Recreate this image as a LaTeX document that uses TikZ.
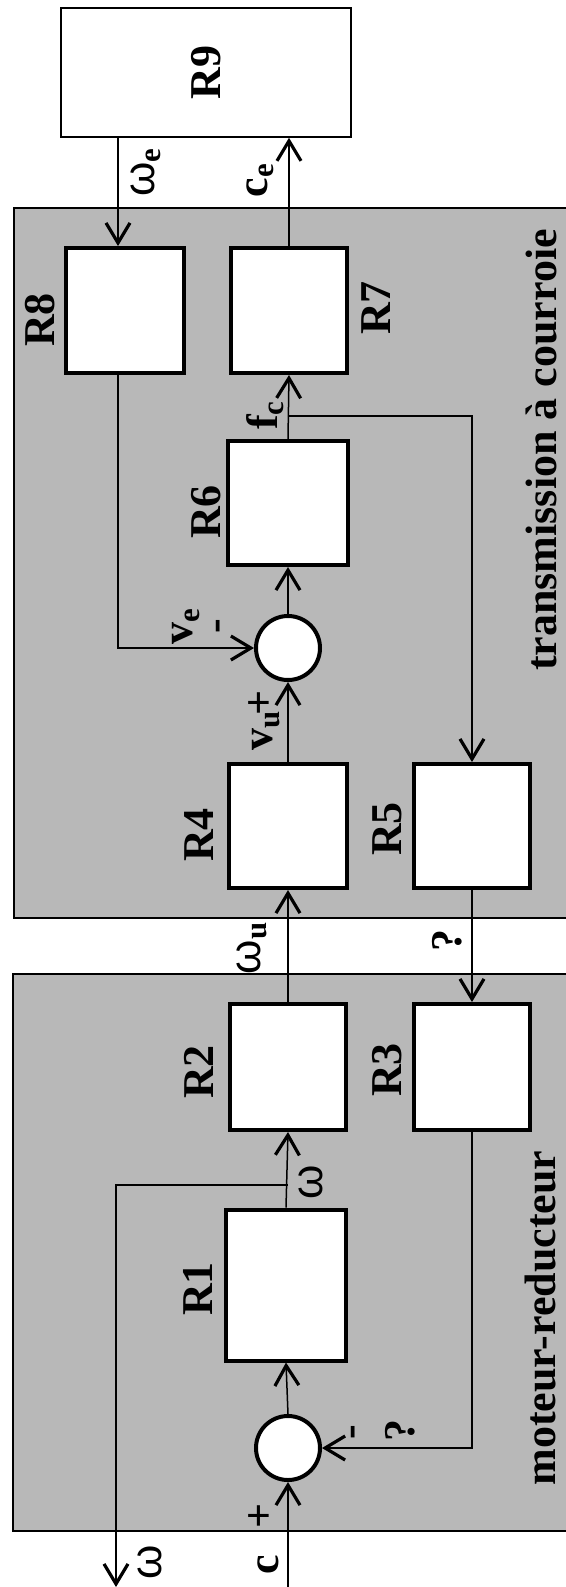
\documentclass[tikz,border=0pt]{standalone}
\usepackage{fontspec}
\setmainfont{Liberation Serif}
\newfontfamily\omfont{Liberation Sans}
\usetikzlibrary{arrows.meta}
\newcommand{\om}{{\omfont\mdseries ω}}
\begin{document}
\begin{tikzpicture}[
				x=0.5pt, y=-0.5pt,
				panel/.style={
					draw=black,
					fill=black!28,
					line width=0.6pt
				},
				block/.style={
					draw=black,
					fill=white,
					line width=2pt,
					inner sep=0pt
				},
				sumnode/.style={
					circle,
					draw=black,
					fill=white,
					line width=2pt,
					minimum size=32pt,
					inner sep=0pt
				},
				signal/.style={
					draw=black,
					line width=0.75pt,
					-{Straight Barb[length=10pt,width=12pt,line width=1.6pt]}
				},
				lab/.style={
					rotate=90,
					inner sep=0pt,
					font=\fontsize{22}{24}\selectfont\bfseries
				}
			]

				\useasboundingbox (0,0) rectangle (566,1587);

				\begin{scope}
					\clip (0,0) rectangle (566,1587);
					\path[panel] (14,208) rectangle (600,918);
					\path[panel] (13,974) rectangle (600,1531);
				\end{scope}

				\node[block, line width=0.75pt, minimum width=145pt, minimum height=64.5pt] (R9) at (206,72.5) {};
				\node[block, minimum width=59pt, minimum height=62.5pt] (R8) at (125,310.5) {};
				\node[block, minimum width=58pt, minimum height=62.5pt] (R7) at (289,310.5) {};
				\node[block, minimum width=60pt, minimum height=62pt] (R6) at (288,503) {};
				\node[sumnode] (sum2) at (288,648) {};
				\node[block, minimum width=59pt, minimum height=62pt] (R4) at (288,826) {};
				\node[block, minimum width=58pt, minimum height=62pt] (R5) at (472,826) {};
				\node[block, minimum width=58pt, minimum height=63pt] (R2) at (288,1067) {};
				\node[block, minimum width=58pt, minimum height=63pt] (R3) at (472,1067) {};
				\node[block, minimum width=60pt, minimum height=75.5pt] (R1) at (286,1285) {};
				\node[sumnode] (sum1) at (288,1448) {};

				\node[lab] (lR9) at (R9.center) {R9};
				\node[lab] (lR8) at (40,320) {R8};
				\node[lab] (lR7) at (376,308) {R7};
				\node[lab] (lR6) at (206,512) {R6};
				\node[lab] (lR4) at (199,835) {R4};
				\node[lab] (lR5) at (387,829) {R5};
				\node[lab] (lR2) at (199,1072) {R2};
				\node[lab] (lR3) at (387,1070) {R3};
				\node[lab] (lR1) at (198,1289) {R1};

				\coordinate (colE) at (118,0);
				\coordinate (fcB) at (288,416);
				\coordinate (wB) at (288,1185);
				\coordinate (wOut) at (116,1587);
				\coordinate (cIn) at (288,1587);

				\draw[signal]
					(R9.south -| colE) -- (R8.north -| colE);

				\draw[signal]
					(R7.north) -- (R9.south -| R7.north);

				\draw[signal]
					(R6.north) -- (R7.south);

				\draw[signal]
					(fcB) -| (R5.north);

				\draw[signal]
					(R8.south -| colE) |- (sum2.west);

				\draw[signal]
					(sum2.north) -- (R6.south);

				\draw[signal]
					(R4.north) -- (sum2.south);

				\draw[signal]
					(R2.north) -- (R4.south);

				\draw[signal]
					(R5.south) -- (R3.north);

				\draw[signal]
					(R1.north) -- (R2.south);

				\draw[signal]
					(wB) -| (wOut);

				\draw[signal]
					(R3.south) |- (sum1.east);

				\draw[signal]
					(sum1.north) -- (R1.south);

				\draw[signal]
					(cIn) -- (sum1.south);

				\node[lab] (tWe) at (146,172) {\om\textsubscript{e}};
				\node[lab] (tCe) at (260,180) {c\textsubscript{e}};
				\node[lab] (tFc) at (265,415) {f\textsubscript{c}};
				\node[lab] (tVe) at (186,626) {v\textsubscript{e}};
				\node[lab] (tMinus2) at (222,626) {-};
				\node[lab] (tVu) at (266,730) {v\textsubscript{u}};
				\node[lab] (tPlus2) at (261,703) {+};
				\node[lab] (tWu) at (252,948) {\om\textsubscript{u}};
				\node[lab] (tQ2) at (447,940) {?};
				\node[lab] (tW1) at (311,1182) {\om};
				\node[lab] (tMinus1) at (357,1432) {-};
				\node[lab] (tQ1) at (400,1430) {?};
				\node[lab] (tPlus1) at (261,1516) {+};
				\node[lab] (tWout) at (150,1562) {\om};
				\node[lab] (tC) at (268,1565) {c};

				\node[lab, anchor=base] (tTrans) at (556,450) {transmission à courroie};
				\node[lab, anchor=base] (tMot) at (555,1318) {moteur-reducteur};

			\end{tikzpicture}
\end{document}
